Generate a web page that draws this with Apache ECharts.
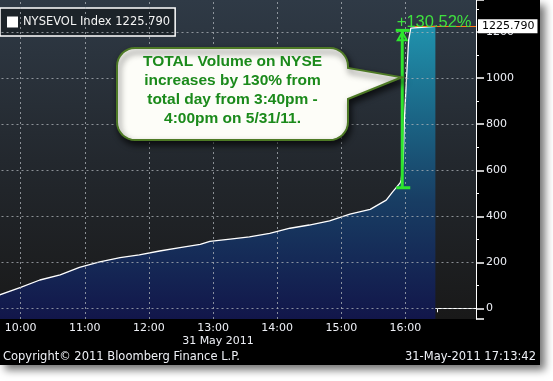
<!DOCTYPE html>
<html><head><meta charset="utf-8">
<script src="https://cdn.jsdelivr.net/npm/echarts@6/dist/echarts.min.js"></script>
<style>html,body{margin:0;padding:0;background:#fff;}#c{width:553px;height:381px;}</style>
</head><body><div id="c"></div>
<script>
// ---- data ----
const times   = ['09:40','10:00','10:18','10:37','10:55','11:14','11:33','11:51','12:10','12:29','12:48','12:57','13:16','13:34','13:53','14:12','14:30','14:49','15:08','15:27','15:42','15:48','15:55','15:56','15:58','15:59','16:01','16:03','16:05','16:06','16:28'];
const volumes = [58,91,123,145,178,202,220,232,249,264,278,291,301,310,326,348,362,380,409,430,470,506,545,558,650,820,1000,1167,1218,1225.79,1225.79];
const hourLabels = ['10:00','11:00','12:00','13:00','14:00','15:00','16:00'];
const yTicks = [0,200,400,600,800,1000,1200];
const lastValue = 1225.79;
const lastLabel = '1225.790';
const seriesName = 'NYSEVOL Index 1225.790';
const measureTime = '15:57';
const measureFrom = 524;
const measureTo = 1208;
const measureText = '+130.52%';
const calloutLines = ['TOTAL Volume on NYSE','increases by 130% from','total day from 3:40pm -','4:00pm on 5/31/11.'];
const dateLabel = '31 May 2011';
const copyright = 'Copyright\u00a9 2011 Bloomberg Finance L.P.';
const stamp = '31-May-2011 17:13:42';

function toMin(s){const p=s.split(':');return (+p[0])*60+(+p[1]);}
function fmt(v){const h=Math.floor(v/60),m=Math.round(v-h*60);return String(h).padStart(2,'0')+':'+String(m).padStart(2,'0');}
const pts = times.map((t,i)=>[toMin(t), volumes[i]]);
const hourMins = hourLabels.map(toMin);
const flatStart = pts.find(p=>p[1]===lastValue)[0];
const X_MIN = 540, X_MAX = 1026;

// callout bubble outline (rounded rectangle with a tail on the right)
function bubblePoints(x0,y0,x1,y1,r,tail){
  const out=[];
  function arc(cx,cy,a0,a1){for(let i=0;i<=8;i++){const a=a0+(a1-a0)*i/8;out.push([cx+r*Math.cos(a),cy+r*Math.sin(a)]);}}
  arc(x0+r,y0+r,Math.PI,1.5*Math.PI);
  arc(x1-r,y0+r,1.5*Math.PI,2*Math.PI);
  out.push([x1,tail[0]],[tail[2],tail[3]],[x1,tail[1]]);
  arc(x1-r,y1-r,0,0.5*Math.PI);
  arc(x0+r,y1-r,0.5*Math.PI,Math.PI);
  return out;
}

const FONT = 'DejaVu Sans';
const txt = '#eef0f6';
const chart = echarts.init(document.getElementById('c'), null, {renderer:'canvas'});
const areaGrad = new echarts.graphic.LinearGradient(0, 26, 0, 319, [
  {offset:0, color:'#2092ad'},{offset:0.3, color:'#1b6787'},{offset:0.6, color:'#183d63'},{offset:1, color:'#12164a'}], true);

chart.setOption({
  backgroundColor:'#ffffff',
  animation:false,
  graphic:[
    {type:'rect', z:-10, shape:{x:0,y:0,width:540,height:365}, style:{fill:'#000', shadowBlur:8, shadowOffsetX:5, shadowOffsetY:5, shadowColor:'rgba(0,0,0,0.55)'}},
    {type:'text', z:10, x:218, y:341, style:{text:dateLabel, fill:txt, fontSize:11, fontFamily:FONT, align:'center', verticalAlign:'middle'}},
    {type:'text', z:10, x:3, y:357.5, style:{text:copyright, fill:txt, fontSize:11.5, fontFamily:FONT, align:'left', verticalAlign:'middle'}},
    {type:'text', z:10, x:536, y:357.5, style:{text:stamp, fill:txt, fontSize:11.5, fontFamily:FONT, align:'right', verticalAlign:'middle'}},
    {type:'polygon', z:100, shape:{points:bubblePoints(117,48,348,140,18,[68,99,401.7,77.3])},
      style:{fill:'#fdfdf8', stroke:'#4e7a26', lineWidth:2, shadowBlur:6, shadowOffsetX:2, shadowOffsetY:4, shadowColor:'rgba(0,0,0,0.7)'}},
    {type:'text', z:101, x:232.5, y:90, style:{text:calloutLines.join('\n'), fill:'#1b8a1b', fontSize:15.5, fontWeight:'bold', fontFamily:'Liberation Sans', align:'center', verticalAlign:'middle', lineHeight:19}}
  ],
  legend:{
    data:[{name:seriesName, icon:'rect'}], left:0, top:8, orient:'horizontal',
    padding:[8,5,8,7], backgroundColor:'#1c2329', borderColor:'#ffffff', borderWidth:1.5, borderRadius:0,
    itemWidth:11, itemHeight:11, selectedMode:false,
    textStyle:{color:'#f4f4f4', fontSize:11.5, fontFamily:FONT}
  },
  grid:{left:-43.5, right:77, top:0, bottom:62, show:true, borderWidth:0, outerBoundsMode:'none', containLabel:false,
    backgroundColor:new echarts.graphic.LinearGradient(0,0,0,1,[{offset:0,color:'#2f3a46'},{offset:0.5,color:'#23282e'},{offset:1,color:'#191919'}])},
  xAxis:{type:'value', min:X_MIN, max:X_MAX, interval:60,
    axisLine:{show:true, lineStyle:{color:'#ffffff', width:1}},
    axisTick:{show:false},
    minorTick:{show:true, splitNumber:2, length:4, lineStyle:{color:'#ffffff', width:1}},
    splitLine:{show:false}, minorSplitLine:{show:false},
    axisLabel:{color:txt, fontSize:11, fontFamily:FONT, margin:4, showMinLabel:true, showMaxLabel:true,
      formatter:v=>(hourMins.indexOf(v)>=0?fmt(v):'')}
  },
  yAxis:{type:'value', position:'right', min:-46.5, max:1340, splitNumber:7,
    axisLine:{show:true, lineStyle:{color:'#ffffff', width:1}},
    axisTick:{show:true, length:8, lineStyle:{color:'#ffffff', width:1.5}},
    minorTick:{show:true, splitNumber:2, length:3, lineStyle:{color:'#ffffff', width:1}},
    splitLine:{show:false},
    axisLabel:{color:txt, fontSize:11, fontFamily:FONT, margin:10,
      formatter:v=>(yTicks.indexOf(v)>=0?String(v):'')}
  },
  series:[
    {type:'line', name:'area', data:pts, z:2, symbol:'none', silent:true,
      lineStyle:{width:0, opacity:0}, areaStyle:{color:areaGrad, opacity:1, origin:'start'}},
    {type:'line', name:'gridlines', data:[], z:3, silent:true, symbol:'none',
      markLine:{silent:true, symbol:['none','none'], label:{show:false},
        lineStyle:{color:'rgba(175,180,185,0.75)', type:[2,3], width:1},
        data: hourMins.map(v=>({xAxis:v})).concat(yTicks.map(v=>({yAxis:v})))}},
    {type:'line', name:seriesName, data:pts, z:4, symbol:'none', silent:true,
      itemStyle:{color:'#ffffff'}, lineStyle:{color:'#ffffff', width:1.3},
      markLine:{silent:true, symbol:['none','none'],
        lineStyle:{color:'#ff7a1a', width:1, type:'solid'},
        label:{show:true, position:'end', distance:2, formatter:lastLabel, color:'#000', backgroundColor:'#ffffff',
          fontSize:11, fontFamily:FONT, padding:[2,3,1,4]},
        data:[[{coord:[flatStart,lastValue]},{coord:[X_MAX,lastValue]}]]}},
    {type:'custom', name:'measure', z:6, silent:true,
      data:[[toMin(measureTime), measureFrom, measureTo]],
      renderItem:function(params, api){
        const b = api.coord([api.value(0), api.value(1)]);
        const t = api.coord([api.value(0), api.value(2)]);
        const c = '#2ee62e';
        return {type:'group', children:[
          {type:'line', shape:{x1:b[0],y1:b[1],x2:t[0],y2:t[1]}, style:{stroke:c, lineWidth:3}},
          {type:'line', shape:{x1:b[0]-6,y1:b[1],x2:b[0]+8,y2:b[1]}, style:{stroke:c, lineWidth:3}},
          {type:'line', shape:{x1:t[0]-6.5,y1:t[1],x2:t[0]+7.5,y2:t[1]}, style:{stroke:c, lineWidth:3}},
          {type:'polygon', shape:{points:[[t[0],t[1]+2],[t[0]-4.5,t[1]+10],[t[0]+4.5,t[1]+10]]}, style:{fill:'none', stroke:c, lineWidth:2}},
          {type:'text', x:t[0]-5.5, y:t[1]+0.5, style:{text:measureText, fill:'#3fe03f', fontSize:16.5, fontFamily:'Liberation Sans', align:'left', verticalAlign:'bottom'}}
        ]};
      }}
  ]
});
</script></body></html>
